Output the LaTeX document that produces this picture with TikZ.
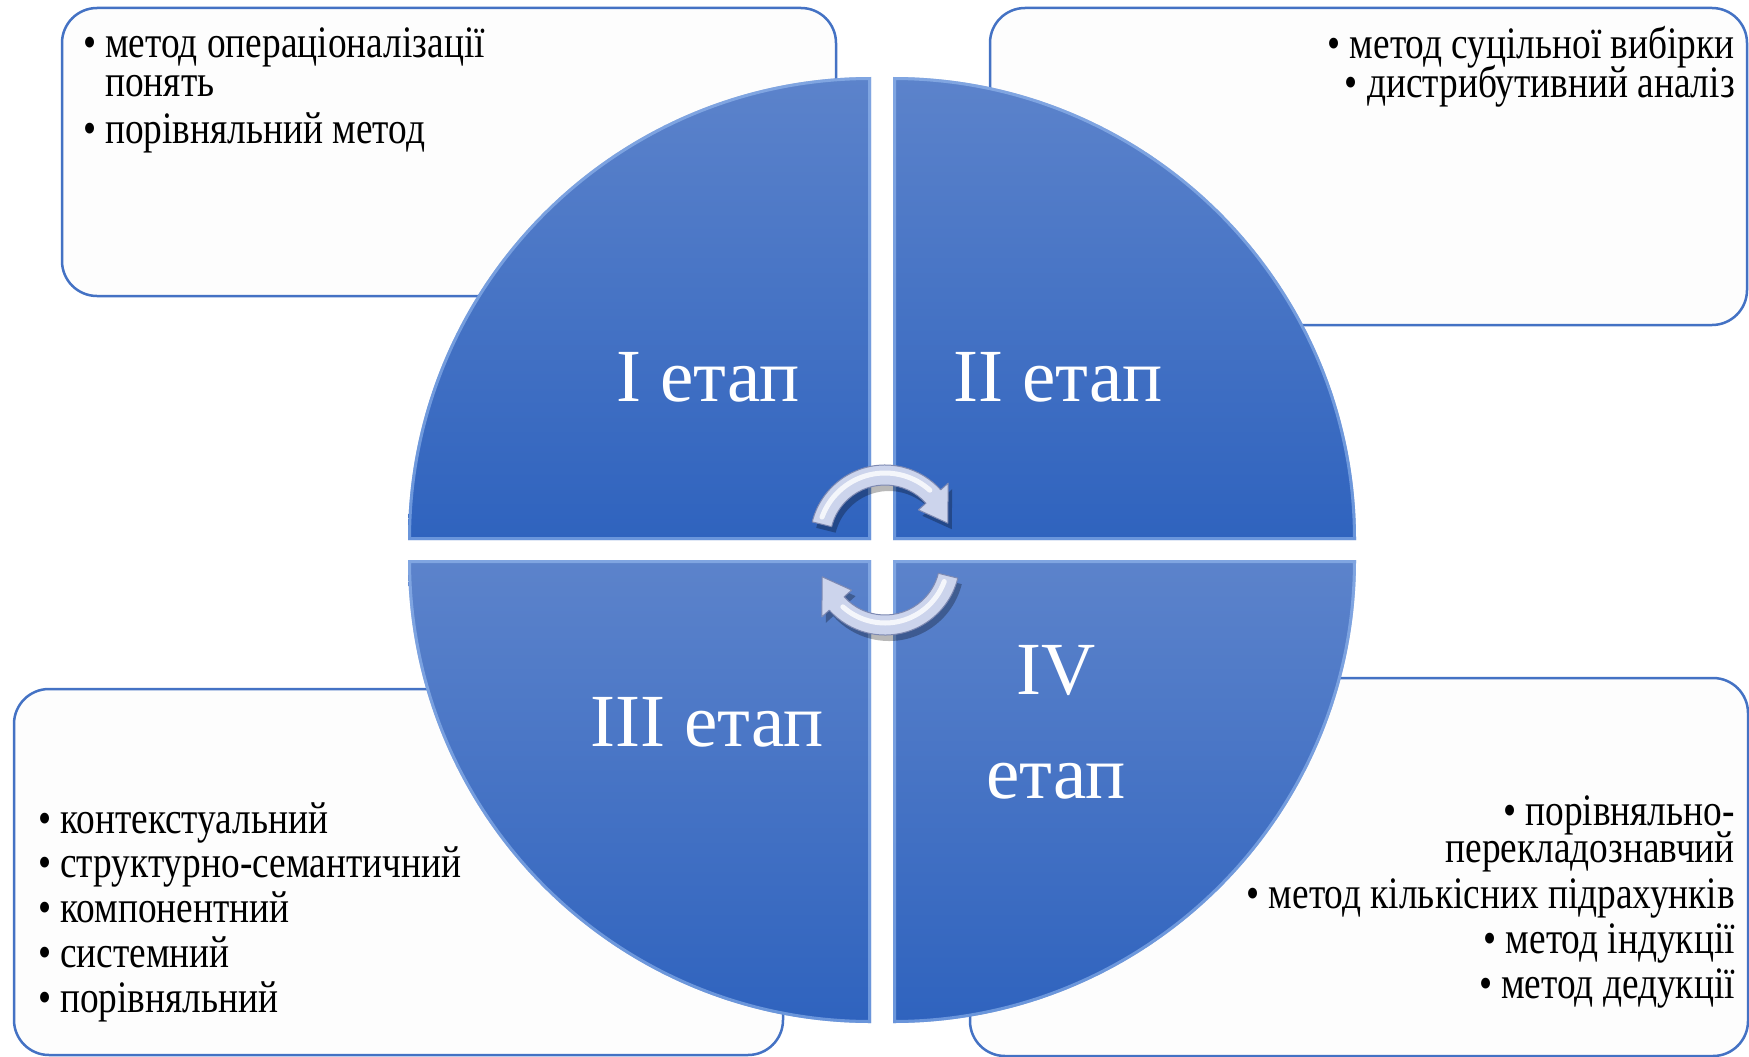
\documentclass[tikz,border=0pt]{standalone}
\usepackage{fontspec}
\setmainfont{Liberation Serif}
\newfontfamily\bodyfont[FakeStretch=0.83]{Liberation Serif}
\definecolor{boxblue}{RGB}{68,114,196}
\definecolor{boxfill}{RGB}{253,253,253}
\definecolor{qtop}{RGB}{92,131,203}
\definecolor{qbot}{RGB}{47,99,190}
\definecolor{qhi}{RGB}{165,200,248}
\definecolor{arrowc}{RGB}{204,212,236}
\definecolor{arrowdk}{RGB}{125,137,178}
\newcommand\myquad[3]{%
  \shade[top color=qtop,bottom color=qbot] (#1,#2) -- ++(#3:463) arc[start angle=#3,delta angle=90,radius=463] -- cycle;
  \begin{scope}
    \clip (#1,#2) -- ++(#3:463) arc[start angle=#3,delta angle=90,radius=463] -- cycle;
    \draw[qhi,line width=6pt,opacity=0.5,line join=miter] (#1,#2) -- ++(#3:463) arc[start angle=#3,delta angle=90,radius=463] -- cycle;
  \end{scope}}
% two lines in one block, fixed baseline distance
\newcommand\blockL[3]{\vtop{\baselineskip=#1\lineskiplimit=-100pt\lineskip=0pt\halign{##\hfil\cr #2\cr #3\cr}}}
\newcommand\blockR[3]{\vtop{\baselineskip=#1\lineskiplimit=-100pt\lineskip=0pt\halign{\hfil##\cr #2\cr #3\cr}}}
\newcommand\bul{•\hspace{9pt}}
\begin{document}
\begin{tikzpicture}[x=1pt,y=-1pt,
  infobox/.style={draw=boxblue,line width=2.5pt,fill=boxfill,rounded corners=35pt},
  itemL/.style={anchor=base west,inner sep=0pt,font=\bodyfont\fontsize{45}{36}\selectfont},
  itemR/.style={anchor=base east,inner sep=0pt,font=\bodyfont\fontsize{45}{36}\selectfont},
  stage/.style={anchor=base,inner sep=0pt,text=white,font=\fontsize{75}{80}\selectfont},
  arrowshape/.style={fill=arrowc,draw=arrowdk,line width=1pt,line join=round}]
\useasboundingbox (0,0) rectangle (1749,1057);
\fill[white] (0,0) rectangle (1749,1057);
% boxes
\draw[infobox] (62,8) rectangle (836,296);
\draw[infobox] (990,8) rectangle (1747,325);
\draw[infobox] (14,689) rectangle (783,1055);
\draw[infobox] (970,678) rectangle (1748,1056);
% quadrants
\myquad{871}{540}{180}
\myquad{893}{540}{270}
\myquad{871}{560}{90}
\myquad{893}{560}{0}
% arrows
\begin{scope}[shift={(889,546)}]
  \fill[black,opacity=0.28] (194:75) arc[start angle=194,end angle=318,radius=75] -- (318:85) -- (345:65) -- (318:45) -- (318:55) arc[start angle=318,end angle=194,radius=55] -- cycle;
\end{scope}
\begin{scope}[shift={(889,566)}]
  \fill[black,opacity=0.28] (14:75) arc[start angle=14,end angle=138,radius=75] -- (138:85) -- (165:65) -- (138:45) -- (138:55) arc[start angle=138,end angle=14,radius=55] -- cycle;
\end{scope}
\begin{scope}[shift={(885,540)}]
  \draw[arrowshape] (194:75) arc[start angle=194,end angle=318,radius=75] -- (318:85) -- (345:65) -- (318:45) -- (318:55) arc[start angle=318,end angle=194,radius=55] -- cycle;
  \draw[white,line width=5pt,opacity=0.8,line cap=round] (200:67) arc[start angle=200,end angle=312,radius=67];
\end{scope}
\begin{scope}[shift={(885,560)}]
  \draw[arrowshape] (14:75) arc[start angle=14,end angle=138,radius=75] -- (138:85) -- (165:65) -- (138:45) -- (138:55) arc[start angle=138,end angle=14,radius=55] -- cycle;
  \draw[white,line width=5pt,opacity=0.8,line cap=round] (20:63) arc[start angle=20,end angle=132,radius=63];
\end{scope}
% stage labels
\node[stage] (s1) at (708,401) {I етап};
\node[stage] (s2) at (1058,401) {II етап};
\node[stage] (s3) at (707,746) {III етап};
\node[stage] (s4a) at (1056,694) {IV};
\node[stage] (s4b) at (1056,798) {етап};
% top-left box text
\node[itemL] (tl1) at (83,58) {\blockL{39pt}{\bul метод операціоналізації}{\phantom{•}\hspace{9pt}понять}};
\node[itemL] (tl3) at (83,143) {\bul порівняльний метод};
% top-right box text
\node[itemR] (tr1) at (1735,59) {\blockR{39pt}{\bul метод суцільної вибірки}{\bul дистрибутивний аналіз}};
% bottom-left box text
\node[itemL] (bl1) at (38,833) {\bul контекстуальний};
\node[itemL] (bl2) at (38,877) {\bul структурно-семантичний};
\node[itemL] (bl3) at (38,922) {\bul компонентний};
\node[itemL] (bl4) at (38,967) {\bul системний};
\node[itemL] (bl5) at (38,1012) {\bul порівняльний};
% bottom-right box text
\node[itemR] (br1) at (1735,825) {\blockR{37pt}{\bul порівняльно-}{перекладознавчий}};
\node[itemR] (br3) at (1735,908) {\bul метод кількісних підрахунків};
\node[itemR] (br4) at (1735,953) {\bul метод індукції};
\node[itemR] (br5) at (1735,998) {\bul метод дедукції};
\end{tikzpicture}
\end{document}
